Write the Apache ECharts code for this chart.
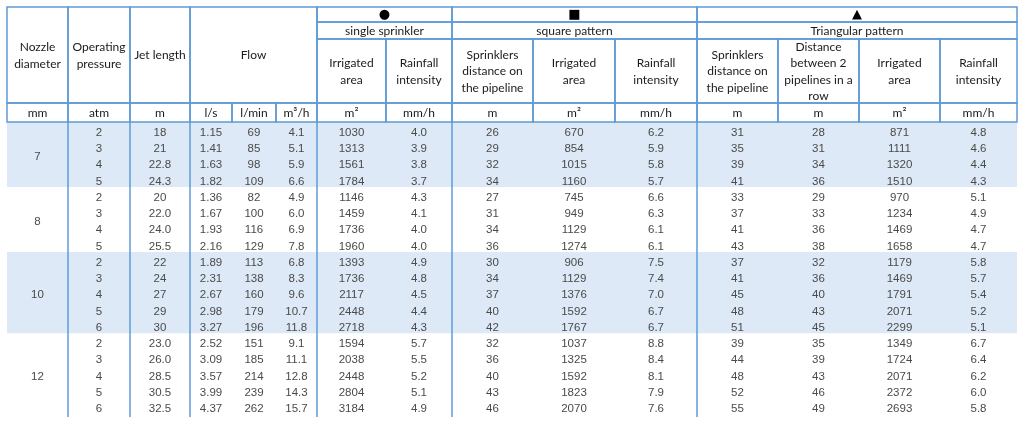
<!DOCTYPE html>
<html>
<head>
<meta charset="utf-8">
<script src="https://cdn.jsdelivr.net/npm/echarts@6/dist/echarts.min.js"></script>
<style>
  html, body { margin: 0; padding: 0; background: #fff; }
  #chart { width: 1024px; height: 428px; }
</style>
</head>
<body>
<div id="chart"></div>
<script>
// ---- table values ----
const nozzleSizes = ['7', '8', '10', '12'];
const rowsPerNozzle = [4, 4, 5, 5];
const pressure = ['2', '3', '4', '5', '2', '3', '4', '5', '2', '3', '4', '5', '6', '2', '3', '4', '5', '6'];
const jetLength = ['18', '21', '22.8', '24.3', '20', '22.0', '24.0', '25.5', '22', '24', '27', '29', '30', '23.0', '26.0', '28.5', '30.5', '32.5'];
const flowLs = ['1.15', '1.41', '1.63', '1.82', '1.36', '1.67', '1.93', '2.16', '1.89', '2.31', '2.67', '2.98', '3.27', '2.52', '3.09', '3.57', '3.99', '4.37'];
const flowLmin = ['69', '85', '98', '109', '82', '100', '116', '129', '113', '138', '160', '179', '196', '151', '185', '214', '239', '262'];
const flowM3h = ['4.1', '5.1', '5.9', '6.6', '4.9', '6.0', '6.9', '7.8', '6.8', '8.3', '9.6', '10.7', '11.8', '9.1', '11.1', '12.8', '14.3', '15.7'];
const singleArea = ['1030', '1313', '1561', '1784', '1146', '1459', '1736', '1960', '1393', '1736', '2117', '2448', '2718', '1594', '2038', '2448', '2804', '3184'];
const singleRain = ['4.0', '3.9', '3.8', '3.7', '4.3', '4.1', '4.0', '4.0', '4.9', '4.8', '4.5', '4.4', '4.3', '5.7', '5.5', '5.2', '5.1', '4.9'];
const squareDist = ['26', '29', '32', '34', '27', '31', '34', '36', '30', '34', '37', '40', '42', '32', '36', '40', '43', '46'];
const squareArea = ['670', '854', '1015', '1160', '745', '949', '1129', '1274', '906', '1129', '1376', '1592', '1767', '1037', '1325', '1592', '1823', '2070'];
const squareRain = ['6.2', '5.9', '5.8', '5.7', '6.6', '6.3', '6.1', '6.1', '7.5', '7.4', '7.0', '6.7', '6.7', '8.8', '8.4', '8.1', '7.9', '7.6'];
const triDist = ['31', '35', '39', '41', '33', '37', '41', '43', '37', '41', '45', '48', '51', '39', '44', '48', '52', '55'];
const triRowDist = ['28', '31', '34', '36', '29', '33', '36', '38', '32', '36', '40', '43', '45', '35', '39', '43', '46', '49'];
const triArea = ['871', '1111', '1320', '1510', '970', '1234', '1469', '1658', '1179', '1469', '1791', '2071', '2299', '1349', '1724', '2071', '2372', '2693'];
const triRain = ['4.8', '4.6', '4.4', '4.3', '5.1', '4.9', '4.7', '4.7', '5.8', '5.7', '5.4', '5.2', '5.1', '6.7', '6.4', '6.2', '6.0', '5.8'];

const units = ['mm', 'atm', 'm', 'l/s', 'l/min', 'm³/h', 'm²', 'mm/h', 'm', 'm²', 'mm/h', 'm', 'm', 'm²', 'mm/h'];

// ---- layout (axis units = px inside the grid) ----
const colEdges = [0, 61, 123, 183, 225, 269, 310, 379, 445, 526, 608, 690, 771, 852, 933, 1010];
const headRows = [0, 15, 32, 96, 115];
const dataTop = 115;
const rowH = 16.25;
const tableBottom = 410;
const lineColor = '#5f9bd6';
const bandColor = '#dde9f6';
const headFont = '12px Lato';
const numFont = '11.5px "Liberation Sans"';

const columns = [null, pressure, jetLength, flowLs, flowLmin, flowM3h, singleArea, singleRain,
  squareDist, squareArea, squareRain, triDist, triRowDist, triArea, triRain];

const cells = [];
function add(kind, c0, c1, y0, y1, text, extra) {
  cells.push(Object.assign({ kind, x0: colEdges[c0], x1: colEdges[c1], y0, y1, text }, extra || {}));
}

// shaded nozzle groups
let r = 0;
rowsPerNozzle.forEach((n, g) => {
  if (g % 2 === 0) add('band', 0, 15, dataTop + r * rowH, dataTop + (r + n) * rowH, '');
  r += n;
});

// header
const H = headRows;
add('head', 0, 1, H[0], H[3], 'Nozzle\ndiameter');
add('head', 1, 2, H[0], H[3], 'Operating\npressure');
add('head', 2, 3, H[0], H[3], 'Jet length');
add('head', 3, 6, H[0], H[3], 'Flow');
add('head', 6, 8, H[0], H[1], '●', { sym: true });
add('head', 6, 8, H[1], H[2], 'single sprinkler');
add('head', 6, 7, H[2], H[3], 'Irrigated\narea');
add('head', 7, 8, H[2], H[3], 'Rainfall\nintensity');
add('head', 8, 11, H[0], H[1], '■', { sym: true });
add('head', 8, 11, H[1], H[2], 'square pattern');
add('head', 8, 9, H[2], H[3], 'Sprinklers\ndistance on\nthe pipeline');
add('head', 9, 10, H[2], H[3], 'Irrigated\narea');
add('head', 10, 11, H[2], H[3], 'Rainfall\nintensity');
add('head', 11, 15, H[0], H[1], '▲', { sym: true });
add('head', 11, 15, H[1], H[2], 'Triangular pattern');
add('head', 11, 12, H[2], H[3], 'Sprinklers\ndistance on\nthe pipeline');
add('head', 12, 13, H[2], H[3], 'Distance\nbetween 2\npipelines in a\nrow');
add('head', 13, 14, H[2], H[3], 'Irrigated\narea');
add('head', 14, 15, H[2], H[3], 'Rainfall\nintensity');
units.forEach((u, i) => add('head', i, i + 1, H[3], H[4], u));

// vertical rules through the body
[1, 2, 3, 6, 8, 11].forEach(ci => add('vline', ci, ci, dataTop, tableBottom, ''));

// body numbers
r = 0;
rowsPerNozzle.forEach((n, g) => {
  add('num', 0, 1, dataTop + r * rowH, dataTop + (r + n) * rowH, nozzleSizes[g]);
  r += n;
});
columns.forEach((col, ci) => {
  if (!col) return;
  col.forEach((v, ri) => add('num', ci, ci + 1, dataTop + ri * rowH, dataTop + (ri + 1) * rowH, v));
});

function renderCell(params, api) {
  const c = cells[params.dataIndex];
  const p0 = api.coord([api.value(0), api.value(1)]);
  const p1 = api.coord([api.value(2), api.value(3)]);
  const w = p1[0] - p0[0], h = p1[1] - p0[1];
  const cx = p0[0] + w / 2, cy = p0[1] + h / 2;
  if (c.kind === 'band') {
    return { type: 'rect', shape: { x: p0[0], y: p0[1], width: w, height: h }, style: { fill: bandColor } };
  }
  if (c.kind === 'vline') {
    return { type: 'line', shape: { x1: p0[0], y1: p0[1], x2: p0[0], y2: p1[1] },
      style: { stroke: lineColor, lineWidth: 1.5 } };
  }
  if (c.kind === 'num') {
    return { type: 'text', style: { x: cx, y: cy + 2.5, text: c.text, align: 'center', verticalAlign: 'middle',
      font: numFont, fill: '#4a4a4a' } };
  }
  return {
    type: 'group',
    children: [
      { type: 'rect', shape: { x: p0[0], y: p0[1], width: w, height: h },
        style: { fill: 'none', stroke: lineColor, lineWidth: 1.5 } },
      { type: 'text', style: { x: cx, y: cy + (c.sym ? 0 : 0.5), text: c.text, align: 'center', verticalAlign: 'middle',
        font: c.sym ? '13px "DejaVu Sans"' : headFont, lineHeight: 16.5, fill: c.sym ? '#000' : '#1a1a1a' } }
    ]
  };
}

const chart = echarts.init(document.getElementById('chart'));
chart.setOption({
  animation: false,
  grid: { left: 7, top: 7, width: 1010, height: tableBottom },
  xAxis: { type: 'value', min: 0, max: 1010, show: false },
  yAxis: { type: 'value', min: 0, max: tableBottom, inverse: true, show: false },
  series: [{
    type: 'custom',
    renderItem: renderCell,
    data: cells.map(c => [c.x0, c.y0, c.x1, c.y1]),
    silent: true
  }]
});
</script>
</body>
</html>
